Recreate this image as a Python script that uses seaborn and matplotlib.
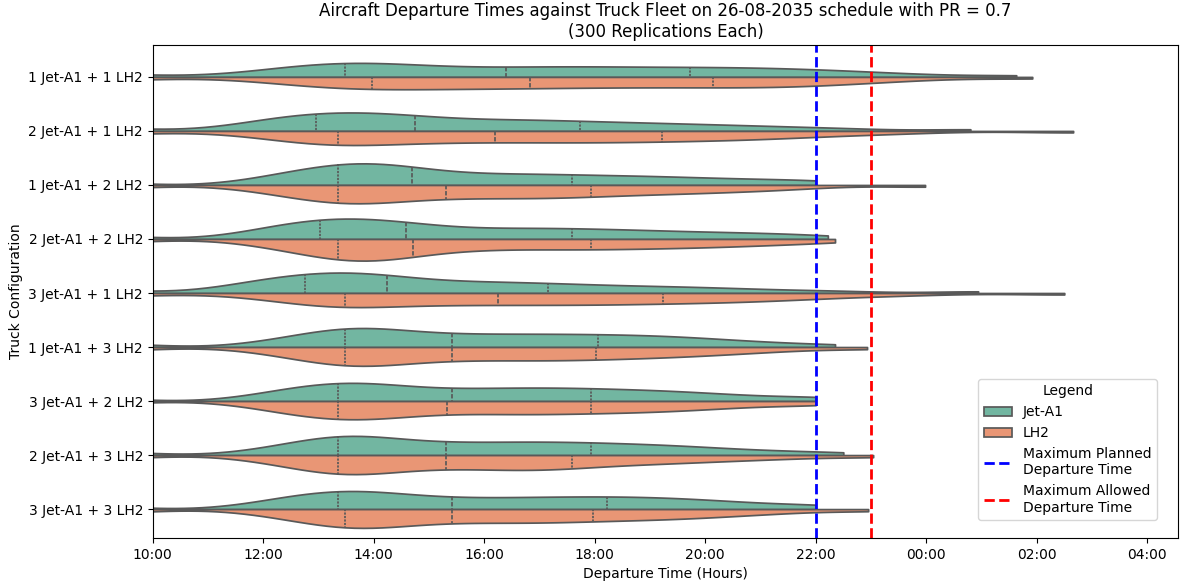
import numpy as np
import pandas as pd
import seaborn as sns
import matplotlib
matplotlib.use("Agg")
import matplotlib.pyplot as plt
from matplotlib.lines import Line2D

# Truck configurations (top to bottom)
configs = ["1 Jet-A1 + 1 LH2", "2 Jet-A1 + 1 LH2", "1 Jet-A1 + 2 LH2",
           "2 Jet-A1 + 2 LH2", "3 Jet-A1 + 1 LH2", "1 Jet-A1 + 3 LH2",
           "3 Jet-A1 + 2 LH2", "2 Jet-A1 + 3 LH2", "3 Jet-A1 + 3 LH2"]
fuels = ["Jet-A1", "LH2"]

# Departure times (hours, 24 = midnight) as evenly spaced percentile points read
# from the chart (5 % or 2.5 % steps); the earliest departures lie left of 10:00.
jet_1j1l = [6.5, 7.8, 8.7, 9.5, 11.8, 12.3, 12.6, 12.85, 13.05, 13.25, 13.48, 13.7, 13.9, 14.1, 14.35, 14.6, 14.9, 15.2, 15.6, 16.0, 16.39,
            16.7, 17.0, 17.35, 17.65, 18.0, 18.3, 18.65, 19.0, 19.35, 19.72, 20.05, 20.4, 20.75, 21.1, 21.5, 21.9, 22.35, 22.9, 23.7, 25.63]
lh2_1j1l = [6.5, 7.9, 8.8, 9.6, 12.0, 12.55, 12.9, 13.2, 13.45, 13.7, 13.97, 14.25, 14.5, 14.8, 15.1, 15.35, 15.65, 15.95, 16.25, 16.55, 16.83,
            17.15, 17.45, 17.8, 18.1, 18.45, 18.8, 19.1, 19.45, 19.8, 20.14, 20.45, 20.8, 21.1, 21.4, 21.75, 22.1, 22.5, 23.0, 23.8, 25.92]
jet_2j1l = [6.5, 7.7, 8.6, 9.4, 11.6, 11.95, 12.2, 12.4, 12.6, 12.78, 12.95, 13.15, 13.3, 13.5, 13.65, 13.85, 14.0, 14.2, 14.35, 14.55, 14.75,
            15.0, 15.3, 15.6, 15.9, 16.2, 16.5, 16.8, 17.1, 17.4, 17.73, 18.1, 18.5, 18.9, 19.3, 19.8, 20.3, 20.9, 21.6, 22.6, 24.8]
lh2_2j1l = [6.5, 7.9, 8.8, 9.6, 11.9, 12.35, 12.65, 12.9, 13.1, 13.22, 13.35, 13.6, 13.85, 14.1, 14.4, 14.65, 14.95, 15.25, 15.55, 15.85, 16.19,
            16.5, 16.8, 17.1, 17.4, 17.7, 18.0, 18.3, 18.6, 18.9, 19.22, 19.55, 19.9, 20.25, 20.6, 21.0, 21.4, 21.9, 22.6, 23.6, 26.66]
jet_1j2l = [6.5, 8.8, 12.1, 12.65, 13.0, 13.35, 13.6, 13.85, 14.1, 14.4, 14.69, 15.2, 15.8, 16.4, 17.0, 17.59, 18.3, 19.0, 19.8, 20.8, 22.0]
lh2_1j2l = [6.5, 7.8, 8.7, 9.5, 11.9, 12.3, 12.6, 12.85, 13.05, 13.2, 13.35, 13.5, 13.65, 13.8, 13.95, 14.1, 14.3, 14.55, 14.8, 15.05, 15.31,
            15.6, 15.85, 16.1, 16.4, 16.65, 16.9, 17.15, 17.4, 17.65, 17.93, 18.25, 18.6, 18.95, 19.3, 19.7, 20.1, 20.6, 21.1, 21.8, 23.98]
jet_2j2l = [6.5, 7.7, 8.6, 9.4, 11.7, 12.05, 12.3, 12.5, 12.68, 12.85, 13.02, 13.17, 13.3, 13.45, 13.6, 13.78, 13.95, 14.1, 14.25, 14.42, 14.58,
            14.85, 15.1, 15.4, 15.7, 16.05, 16.4, 16.7, 17.0, 17.3, 17.59, 17.95, 18.3, 18.65, 19.0, 19.45, 19.9, 20.4, 20.9, 21.5, 22.22]
lh2_2j2l = [6.5, 7.8, 8.7, 9.5, 11.9, 12.3, 12.6, 12.85, 13.05, 13.2, 13.35, 13.48, 13.6, 13.72, 13.85, 13.97, 14.1, 14.25, 14.4, 14.55, 14.71,
            15.0, 15.3, 15.6, 15.9, 16.25, 16.6, 16.95, 17.3, 17.6, 17.93, 18.25, 18.6, 18.95, 19.3, 19.7, 20.1, 20.5, 21.0, 21.6, 22.35]
jet_3j1l = [6.5, 7.7, 8.5, 9.3, 11.4, 11.75, 11.95, 12.15, 12.35, 12.55, 12.75, 12.9, 13.05, 13.2, 13.35, 13.5, 13.65, 13.8, 13.95, 14.1, 14.24,
            14.45, 14.7, 15.0, 15.3, 15.6, 15.9, 16.2, 16.5, 16.8, 17.15, 17.5, 17.9, 18.3, 18.8, 19.3, 19.8, 20.4, 21.2, 22.4, 24.94]
lh2_3j1l = [6.5, 7.9, 8.8, 9.6, 12.0, 12.5, 12.8, 13.0, 13.2, 13.35, 13.48, 13.7, 13.95, 14.2, 14.5, 14.8, 15.1, 15.4, 15.7, 15.95, 16.25,
            16.55, 16.85, 17.15, 17.45, 17.7, 18.0, 18.3, 18.6, 18.9, 19.24, 19.55, 19.9, 20.25, 20.6, 21.0, 21.4, 21.9, 22.6, 23.7, 26.5]
jet_1j3l = [6.5, 7.9, 8.8, 9.6, 12.0, 12.45, 12.75, 12.98, 13.18, 13.33, 13.48, 13.62, 13.75, 13.9, 14.05, 14.22, 14.4, 14.65, 14.9, 15.15, 15.41,
            15.7, 15.95, 16.2, 16.5, 16.75, 17.0, 17.25, 17.55, 17.8, 18.06, 18.35, 18.6, 18.9, 19.2, 19.5, 19.8, 20.2, 20.7, 21.3, 22.35]
lh2_1j3l = [6.5, 7.9, 8.8, 9.6, 12.0, 12.45, 12.75, 12.98, 13.18, 13.33, 13.48, 13.62, 13.75, 13.9, 14.05, 14.22, 14.4, 14.65, 14.9, 15.15, 15.41,
            15.7, 15.95, 16.2, 16.5, 16.75, 17.0, 17.25, 17.5, 17.75, 18.02, 18.3, 18.6, 18.9, 19.2, 19.55, 19.9, 20.3, 20.8, 21.5, 22.93]
jet_3j2l = [6.5, 8.8, 12.1, 12.65, 13.0, 13.35, 13.65, 13.95, 14.3, 14.8, 15.41, 15.95, 16.45, 16.95, 17.45, 17.93, 18.5, 19.1, 19.7, 20.6, 22.0]
lh2_3j2l = [6.5, 8.8, 12.1, 12.65, 13.0, 13.35, 13.65, 13.95, 14.3, 14.75, 15.32, 15.9, 16.4, 16.9, 17.4, 17.93, 18.5, 19.1, 19.7, 20.6, 22.0]
jet_2j3l = [6.5, 7.8, 8.7, 9.5, 11.9, 12.35, 12.65, 12.88, 13.05, 13.2, 13.35, 13.48, 13.6, 13.75, 13.9, 14.05, 14.25, 14.5, 14.75, 15.0, 15.31,
            15.6, 15.85, 16.1, 16.4, 16.65, 16.9, 17.15, 17.4, 17.65, 17.93, 18.2, 18.5, 18.8, 19.1, 19.45, 19.8, 20.2, 20.8, 21.5, 22.5]
lh2_2j3l = [6.5, 7.8, 8.7, 9.5, 11.9, 12.35, 12.65, 12.88, 13.05, 13.2, 13.35, 13.48, 13.6, 13.75, 13.9, 14.05, 14.25, 14.5, 14.75, 15.0, 15.31,
            15.55, 15.8, 16.05, 16.3, 16.55, 16.75, 16.95, 17.15, 17.35, 17.59, 17.9, 18.2, 18.55, 18.9, 19.3, 19.7, 20.2, 20.8, 21.6, 23.04]
jet_3j3l = [6.5, 8.8, 12.1, 12.65, 13.0, 13.35, 13.65, 13.95, 14.3, 14.8, 15.41, 16.0, 16.6, 17.15, 17.7, 18.22, 18.75, 19.3, 19.9, 20.7, 22.0]
lh2_3j3l = [6.5, 7.9, 8.8, 9.6, 12.0, 12.45, 12.75, 12.98, 13.18, 13.33, 13.48, 13.62, 13.75, 13.9, 14.05, 14.22, 14.4, 14.65, 14.9, 15.15, 15.41,
            15.7, 15.95, 16.2, 16.45, 16.7, 16.95, 17.2, 17.45, 17.7, 17.97, 18.3, 18.6, 18.9, 19.2, 19.55, 19.9, 20.3, 20.8, 21.5, 22.95]

jet_series = [jet_1j1l, jet_2j1l, jet_1j2l, jet_2j2l, jet_3j1l, jet_1j3l, jet_3j2l, jet_2j3l, jet_3j3l]
lh2_series = [lh2_1j1l, lh2_2j1l, lh2_1j2l, lh2_2j2l, lh2_3j1l, lh2_1j3l, lh2_3j2l, lh2_2j3l, lh2_3j3l]

tick_hours = [10, 12, 14, 16, 18, 20, 22, 24, 26, 28]
tick_labels = ["10:00", "12:00", "14:00", "16:00", "18:00", "20:00", "22:00", "00:00", "02:00", "04:00"]
planned_max = 22.0
allowed_max = 23.0

rows = []
for cfg, jv, lv in zip(configs, jet_series, lh2_series):
    for v in jv:
        rows.append((cfg, "Jet-A1", v))
    for v in lv:
        rows.append((cfg, "LH2", v))
df = pd.DataFrame(rows, columns=["Truck Configuration", "Fuel", "Departure"])

fig, ax = plt.subplots(figsize=(11.84, 5.83), dpi=100)
fig.subplots_adjust(left=0.129, right=0.995, top=0.923, bottom=0.077)

sns.violinplot(data=df, x="Departure", y="Truck Configuration", hue="Fuel",
               order=configs, hue_order=fuels, split=True, inner="quart",
               palette="Set2", cut=0, bw_method=0.22, orient="h", ax=ax)

ax.axvline(planned_max, color="blue", linestyle="--", linewidth=2)
ax.axvline(allowed_max, color="red", linestyle="--", linewidth=2)

ax.set_xlim(10, 28.56)
ax.set_ylim(8.537, -0.593)
ax.set_xticks(tick_hours)
ax.set_xticklabels(tick_labels)
ax.set_xlabel("Departure Time (Hours)")
ax.set_ylabel("Truck Configuration")
ax.set_title("Aircraft Departure Times against Truck Fleet on 26-08-2035 schedule with PR = 0.7\n(300 Replications Each)")

leg = ax.get_legend()
handles = list(leg.legend_handles)
labels = [t.get_text() for t in leg.get_texts()]
handles += [Line2D([0], [0], color="blue", linestyle="--", linewidth=2),
            Line2D([0], [0], color="red", linestyle="--", linewidth=2)]
labels += ["Maximum Planned\nDeparture Time", "Maximum Allowed\nDeparture Time"]
ax.legend(handles, labels, title="Legend", loc="lower right",
          bbox_to_anchor=(0.9795, 0.0365), borderaxespad=0)

fig.savefig("out.png", dpi=100)
